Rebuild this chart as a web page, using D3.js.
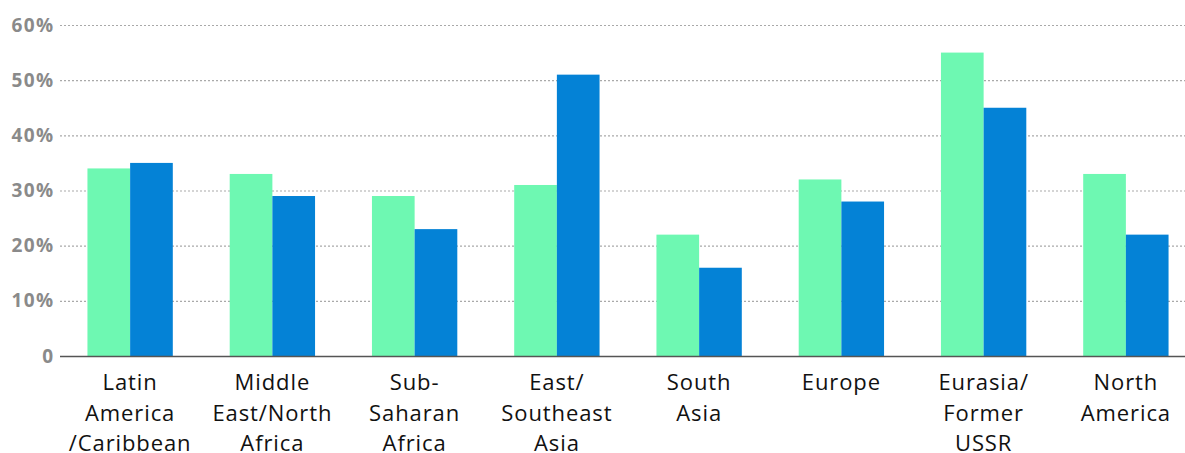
<!DOCTYPE html>
<html>
<head>
<meta charset="utf-8">
<script src="https://cdn.jsdelivr.net/npm/d3@7"></script>
<style>
  body { margin: 0; background: #fff; }
  svg { display: block; }
  .tick-label { font-family: "Open Sans", sans-serif; font-weight: 700; font-size: 19px; letter-spacing: 1.4px; fill: #8a8a8a; }
  .cat-label { font-family: "Open Sans", sans-serif; font-size: 22px; letter-spacing: 0.9px; fill: #111; }
</style>
</head>
<body>
<div id="chart"></div>
<script>
// regions along the x axis, each label split into lines
var categories = [
  ["Latin", "America", "/Caribbean"],
  ["Middle", "East/North", "Africa"],
  ["Sub-", "Saharan", "Africa"],
  ["East/", "Southeast", "Asia"],
  ["South", "Asia"],
  ["Europe"],
  ["Eurasia/", "Former", "USSR"],
  ["North", "America"]
];
var seriesNames = ["first", "second"];
var greenValues = [34, 33, 29, 31, 22, 32, 55, 33];
var blueValues = [35, 29, 23, 51, 16, 28, 45, 22];
var yTicks = [0, 10, 20, 30, 40, 50, 60];
var tickLabels = ["0", "10%", "20%", "30%", "40%", "50%", "60%"];

var svgWidth = 1185;
var svgHeight = 453;
var colors = { first: "#6ef8b2", second: "#0482d6" };

var svg = d3.select("#chart")
  .append("svg")
  .attr("width", svgWidth)
  .attr("height", svgHeight);

var rows = categories.map(function(c, i) {
  return { key: c.join(" "), lines: c, first: greenValues[i], second: blueValues[i] };
});

var x0 = d3.scaleBand()
  .domain(rows.map(d => d.key))
  .range([59, 1197])
  .padding(0);

var step = x0.step();
var x1 = d3.scaleBand()
  .domain(seriesNames)
  .range([step * 0.2, step * 0.8]);

var y = d3.scaleLinear()
  .domain([0, 60])
  .range([356, 25]);

// dotted gridlines
svg.append("g")
  .selectAll("line")
  .data(yTicks.filter(t => t > 0))
  .enter()
  .append("line")
  .attr("x1", 60)
  .attr("x2", svgWidth)
  .attr("y1", d => y(d) + 0.5)
  .attr("y2", d => y(d) + 0.5)
  .attr("stroke", "#a9a9a9")
  .attr("stroke-width", 1.2)
  .attr("stroke-dasharray", "2,2");

// tick labels
svg.append("g")
  .selectAll("text")
  .data(yTicks)
  .enter()
  .append("text")
  .attr("class", "tick-label")
  .attr("x", 54.5)
  .attr("y", d => y(d))
  .attr("dy", "0.35em")
  .attr("text-anchor", "end")
  .text((d, i) => tickLabels[i]);

// bars
var groups = svg.append("g")
  .selectAll("g")
  .data(rows)
  .enter()
  .append("g")
  .attr("transform", d => `translate(${x0(d.key)},0)`);

groups.selectAll("rect")
  .data(d => seriesNames.map(s => ({ s: s, v: d[s] })))
  .enter()
  .append("rect")
  .attr("x", d => x1(d.s))
  .attr("width", x1.bandwidth())
  .attr("y", d => y(d.v))
  .attr("height", d => y(0) - y(d.v))
  .attr("fill", d => colors[d.s]);

// baseline
svg.append("line")
  .attr("x1", 60)
  .attr("x2", svgWidth)
  .attr("y1", y(0) + 0.5)
  .attr("y2", y(0) + 0.5)
  .attr("stroke", "#555")
  .attr("stroke-width", 1.5);

// category labels
var labels = svg.append("g")
  .selectAll("text")
  .data(rows)
  .enter()
  .append("text")
  .attr("class", "cat-label")
  .attr("text-anchor", "middle")
  .attr("x", d => x0(d.key) + step / 2)
  .attr("y", 390);

labels.selectAll("tspan")
  .data(d => d.lines)
  .enter()
  .append("tspan")
  .attr("x", function() { return d3.select(this.parentNode).attr("x"); })
  .attr("y", (d, i) => 390 + i * 30.5)
  .text(d => d);
</script>
</body>
</html>
